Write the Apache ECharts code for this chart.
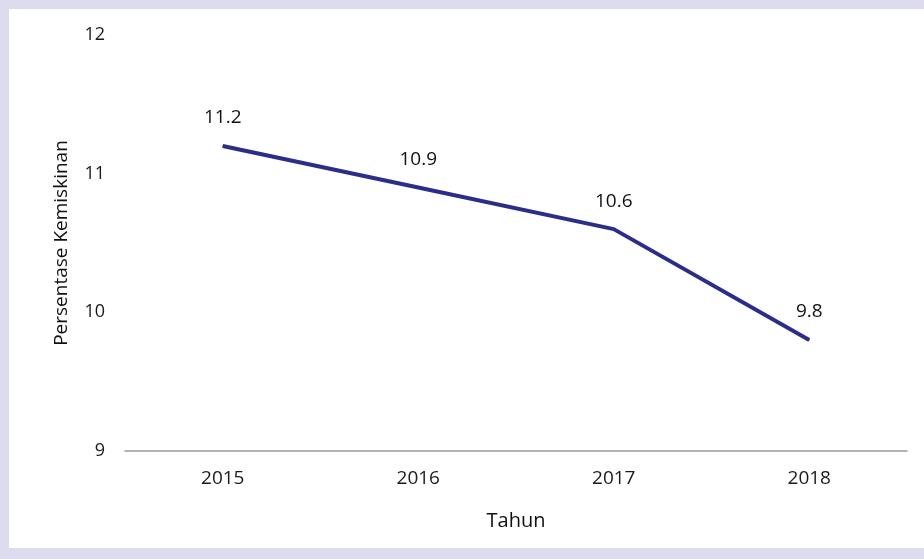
<!DOCTYPE html>
<html>
<head>
<meta charset="utf-8">
<script src="https://cdn.jsdelivr.net/npm/echarts@6/dist/echarts.min.js"></script>
<style>
	html, body {
		margin: 0;
		padding: 0;
		background: #dcdcee;
	}
	.frame {
		position: absolute;
		left: 9px;
		top: 9px;
		width: 915px;
		height: 539px;
		background: #ffffff;
	}
	.chart {
		position: absolute;
		left: 0;
		top: 0;
		width: 924px;
		height: 559px;
	}
</style>
</head>
<body>
<div class="frame"></div>
<div class="chart" id="chart"></div>
<script>
var years = ['2015', '2016', '2017', '2018'];
var persentase = [11.2, 10.9, 10.6, 9.8];
var yTicks = [9, 10, 11, 12];

var font = 'Open Sans, Noto Sans, sans-serif';
var myChart = echarts.init(document.getElementById('chart'));
var option = {
	backgroundColor: 'transparent',
	grid: {
		left: 125,
		right: 17,
		top: 35,
		bottom: 108
	},
	xAxis: {
		type: 'category',
		data: years,
		name: 'Tahun',
		nameLocation: 'middle',
		nameGap: 60,
		nameTextStyle: { color: '#111', fontSize: 20, fontFamily: font },
		axisLine: { lineStyle: { color: '#9a9a9a', width: 1.5 } },
		axisTick: { show: false },
		axisLabel: { color: '#1a1a1a', fontSize: 19, margin: 18, fontFamily: font }
	},
	yAxis: {
		type: 'value',
		min: yTicks[0],
		max: yTicks[yTicks.length - 1],
		interval: 1,
		name: 'Persentase Kemiskinan',
		nameLocation: 'middle',
		nameGap: 54,
		nameTextStyle: { color: '#111', fontSize: 19, fontFamily: font },
		axisLine: { show: false },
		axisTick: { show: false },
		splitLine: { show: false },
		axisLabel: { color: '#1a1a1a', fontSize: 18, margin: 20, fontFamily: font }
	},
	series: [
		{
			type: 'line',
			data: persentase,
			symbol: 'circle',
			symbolSize: 1,
			showSymbol: true,
			itemStyle: { color: '#2a2d8a' },
			lineStyle: { color: '#2a2d8a', width: 4 },
			label: {
				show: true,
				position: 'top',
				distance: 18,
				color: '#111',
				fontSize: 19,
				fontFamily: font
			}
		}
	]
};
myChart.setOption(option);
</script>
</body>
</html>
